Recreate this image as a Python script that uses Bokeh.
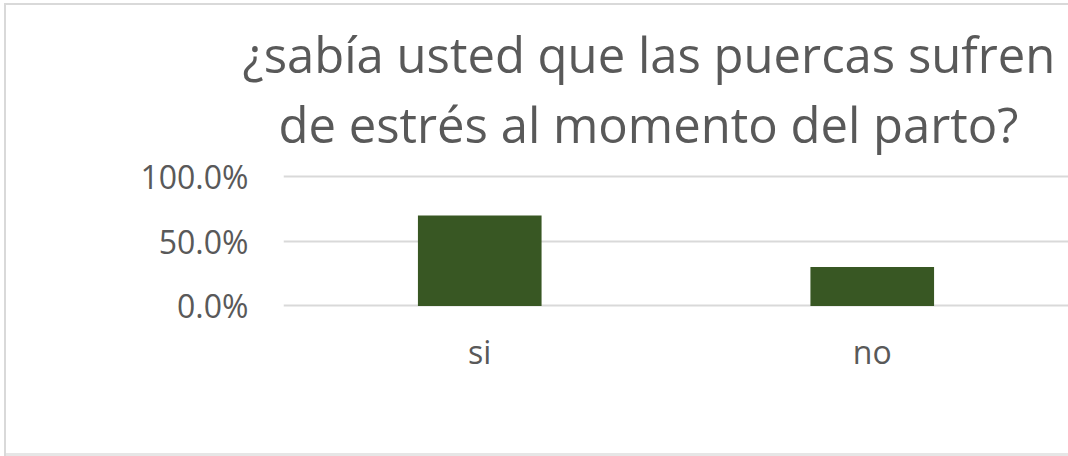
from bokeh.plotting import figure
from bokeh.models import Range1d, FactorRange, FixedTicker, NumeralTickFormatter, ColumnDataSource, Title
from bokeh.embed import file_html
from bokeh.resources import INLINE

categories = ["si", "no"]
values = [0.70, 0.30]
title_lines = ["¿sabía usted que las puercas sufren", "de estrés al momento del parto?"]
y_ticks = [0.0, 0.5, 1.0]

FONT = "Open Sans"
GRAY = "#595959"

source = ColumnDataSource(data=dict(cat=categories, val=values))

p = figure(
    width=1068, height=456,
    x_range=FactorRange(*categories, range_padding=0),
    y_range=Range1d(-0.02, 1.14),
    output_backend="svg", toolbar_location=None,
    min_border_left=283, min_border_right=0,
    min_border_top=158, min_border_bottom=148,
)
p.outline_line_color = None
p.background_fill_color = None
p.border_fill_color = None
p.styles = {
    "background": "white",
    "box-shadow": "inset 4px 3px 0 0 white, inset 6px 5px 0 0 #d9d9d9, inset 0 -3px 0 0 #e6e6e6",
}

p.vbar(x="cat", top="val", bottom=0, width=0.315, source=source,
       fill_color="#385723", line_color=None)

p.xgrid.grid_line_color = None
p.ygrid.grid_line_color = "#d9d9d9"
p.ygrid.grid_line_width = 2

p.yaxis.ticker = FixedTicker(ticks=y_ticks)
p.yaxis.formatter = NumeralTickFormatter(format="0.0%")
for ax in (p.xaxis[0], p.yaxis[0]):
    ax.axis_line_color = None
    ax.major_tick_line_color = None
    ax.minor_tick_line_color = None
    ax.major_label_text_font = FONT
    ax.major_label_text_font_size = "32px"
    ax.major_label_text_color = GRAY
p.yaxis.major_label_standoff = 29
p.xaxis.major_label_standoff = 15

def style_title(t, offset, standoff):
    t.text_font = FONT
    t.text_font_size = "49px"
    t.text_font_style = "normal"
    t.text_color = GRAY
    t.align = "left"
    t.offset = offset
    t.standoff = standoff

p.title.text = title_lines[0]
style_title(p.title, -41, 0)
t2 = Title(text=title_lines[1])
style_title(t2, -5, 4)
p.add_layout(t2, "above")

open("out.html", "w").write(file_html(p, INLINE))
